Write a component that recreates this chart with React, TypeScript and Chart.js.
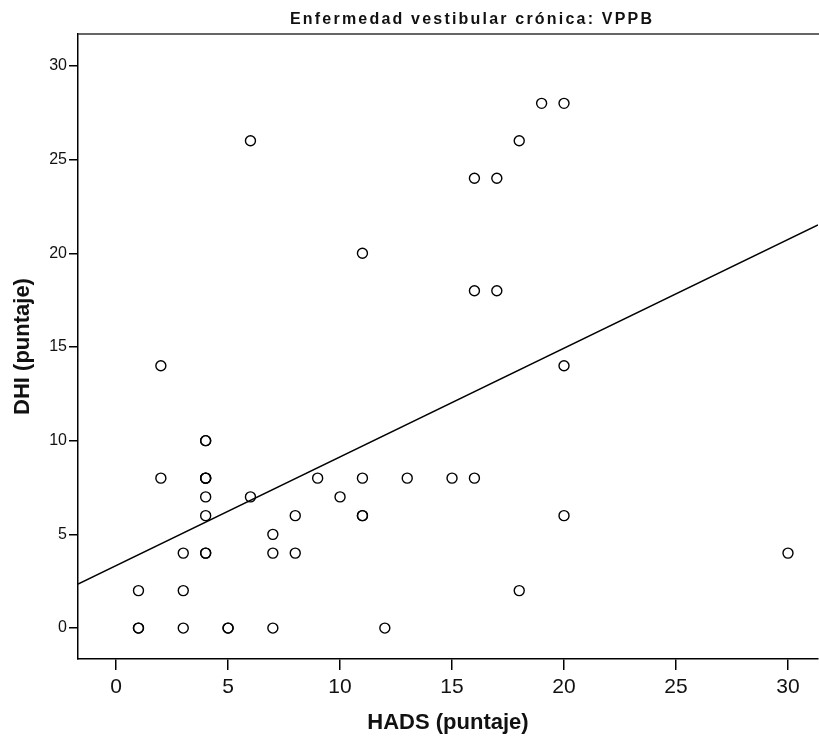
import React, { useEffect, useRef } from "react";
import { Chart, registerables } from "chart.js";

Chart.register(...registerables);

const TITLE = "Enfermedad vestibular crónica: VPPB";
const X_TITLE = "HADS (puntaje)";
const Y_TITLE = "DHI (puntaje)";

const hadsValues = [1, 1, 1, 2, 2, 3, 3, 3, 4, 4, 4, 4, 4, 4, 4, 4, 4, 5, 5, 6, 6, 7, 7, 7, 8, 8, 9, 10, 11, 11, 11, 11, 12, 13, 15, 16, 16, 16, 17, 17, 18, 18, 19, 20, 20, 20, 30];
const dhiValues = [2, 0, 0, 14, 8, 4, 2, 0, 10, 10, 8, 8, 7, 6, 4, 4, 8, 0, 0, 26, 7, 5, 4, 0, 6, 4, 8, 7, 20, 8, 6, 6, 0, 8, 8, 24, 18, 8, 24, 18, 26, 2, 28, 28, 14, 6, 4];

const xTicks = [0, 5, 10, 15, 20, 25, 30];
const yTicks = [0, 5, 10, 15, 20, 25, 30];

const fitIntercept = 3.34;
const fitSlope = 0.58;

const X_MIN = -1.7;
const X_MAX = 31.34;
const Y_MIN = -1.65;
const Y_MAX = 31.7;

export default function App() {
  const ref = useRef<HTMLCanvasElement | null>(null);

  useEffect(() => {
    const canvas = ref.current;
    if (!canvas) return;
    const points = hadsValues.map((x, i) => ({ x, y: dhiValues[i] }));
    const fitLine = [X_MIN, X_MAX].map((x) => ({ x, y: fitIntercept + fitSlope * x }));

    const framePlugin = {
      id: "frame",
      afterDraw(chart: any) {
        const { ctx, chartArea } = chart;
        ctx.save();
        ctx.strokeStyle = "#333";
        ctx.lineWidth = 1.5;
        ctx.beginPath();
        ctx.moveTo(chartArea.left, chartArea.top);
        ctx.lineTo(chartArea.right + 1, chartArea.top);
        ctx.stroke();
        ctx.fillStyle = "#111";
        ctx.font = "bold 16px 'Liberation Sans', Arial, sans-serif";
        (ctx as any).letterSpacing = "2.2px";
        ctx.textAlign = "left";
        ctx.textBaseline = "alphabetic";
        ctx.fillText(TITLE, 290, 24);
        ctx.restore();
      },
    };

    const chart = new Chart(canvas, {
      type: "scatter",
      data: {
        datasets: [
          {
            type: "line",
            data: fitLine,
            borderColor: "#000",
            borderWidth: 1.5,
            pointRadius: 0,
            fill: false,
          } as any,
          {
            data: points,
            borderColor: "#000",
            borderWidth: 1.4,
            backgroundColor: "rgba(0,0,0,0)",
            pointRadius: 5,
            pointStyle: "circle",
          },
        ],
      },
      options: {
        animation: false,
        responsive: false,
        devicePixelRatio: 1,
        layout: { autoPadding: false, padding: { top: 34, right: 1, left: 0, bottom: 0 } },
        plugins: {
          legend: { display: false },
          tooltip: { enabled: false },
          title: { display: false },
        },
        scales: {
          x: {
            type: "linear",
            min: X_MIN,
            max: X_MAX,
            afterBuildTicks: (s: any) => {
              s.ticks = xTicks.map((v) => ({ value: v }));
            },
            afterFit: (s: any) => {
              s.height = 83;
            },
            grid: { drawOnChartArea: false, drawTicks: true, tickLength: 11, color: "#000", lineWidth: 1.5 },
            border: { display: true, color: "#000", width: 1.5 },
            ticks: {
              color: "#111",
              padding: 5,
              maxRotation: 0,
              font: { family: "'Liberation Sans', Arial, sans-serif", size: 21 },
            },
            title: {
              display: true,
              text: X_TITLE,
              color: "#111",
              padding: { top: 0, bottom: 6 },
              font: { family: "'Liberation Sans', Arial, sans-serif", size: 22, weight: "bold" },
            },
          },
          y: {
            type: "linear",
            min: Y_MIN,
            max: Y_MAX,
            afterBuildTicks: (s: any) => {
              s.ticks = yTicks.map((v) => ({ value: v }));
            },
            afterFit: (s: any) => {
              s.width = 78;
            },
            grid: { drawOnChartArea: false, drawTicks: true, tickLength: 9, color: "#000", lineWidth: 1.5 },
            border: { display: true, color: "#000", width: 1.5 },
            ticks: {
              color: "#111",
              padding: 2,
              font: { family: "'Liberation Sans', Arial, sans-serif", size: 16 },
            },
            title: {
              display: true,
              text: Y_TITLE,
              color: "#111",
              padding: { top: 10, bottom: 0 },
              font: { family: "'Liberation Sans', Arial, sans-serif", size: 22, weight: "bold" },
            },
          },
        },
      } as any,
      plugins: [framePlugin],
    });
    return () => chart.destroy();
  }, []);

  return (
    <div style={{ position: "fixed", left: 0, top: 0, width: 819, height: 742, background: "#fff" }}>
      <canvas ref={ref} width={819} height={742} style={{ width: 819, height: 742, display: "block" }} />
    </div>
  );
}
